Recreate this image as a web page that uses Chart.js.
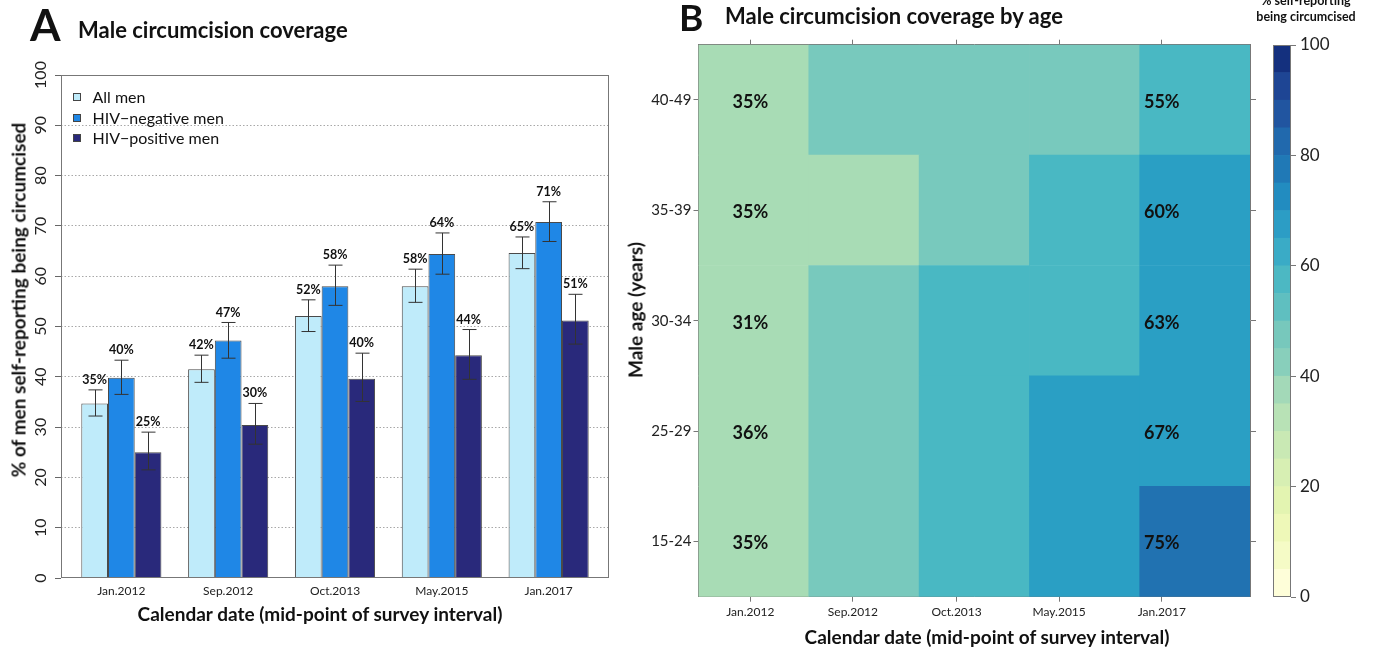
<!DOCTYPE html>
<html>
<head>
<meta charset="utf-8">
<script src="https://cdn.jsdelivr.net/npm/chart.js@4.4.1/dist/chart.umd.min.js"></script>
<style>
  body { margin: 0; background: #fff; }
  #page { position: relative; width: 1373px; height: 651px; overflow: hidden; background: #fff; font-family: Lato, sans-serif; color: #111; }
  canvas { position: absolute; top: 0; }
  .txt { position: absolute; white-space: nowrap; line-height: 1; }
  .letter { font-weight: 700; }
  .head { font-weight: 700; font-size: 22px; }
  .axt { font-weight: 700; font-size: 19px; transform: translate(-50%, -50%); }
  .axt.rot { transform: translate(-50%, -50%) rotate(-90deg); }
  .cbt { font-weight: 700; font-size: 12.5px; line-height: 16px; text-align: center; }
</style>
</head>
<body>
<div id="page">
  <canvas id="chartA" width="625" height="651" style="left:0"></canvas>
  <canvas id="chartB" width="665" height="651" style="left:600px"></canvas>
  <canvas id="chartC" width="111" height="651" style="left:1262px"></canvas>

  <div class="txt letter" style="left:30px; top:2px; font-size:44px;">A</div>
  <div class="txt head" style="left:78px; top:19px;">Male circumcision coverage</div>
  <div class="txt letter" style="left:679px; top:-2px; font-size:37px;">B</div>
  <div class="txt head" style="left:725px; top:5px;">Male circumcision coverage by age</div>
  <div class="txt cbt" style="left:1246px; top:-7px; width:120px;">% self-reporting<br>being circumcised</div>

  <div class="txt axt" style="left:320px; top:613px;">Calendar date (mid-point of survey interval)</div>
  <div class="txt axt rot" style="left:18px; top:300px;">% of men self-reporting being circumcised</div>
  <div class="txt axt" style="left:987px; top:636px;">Calendar date (mid-point of survey interval)</div>
  <div class="txt axt rot" style="left:635px; top:310px;">Male age (years)</div>
</div>

<script>
// survey rounds (mid-point of interval)
const dates = ['Jan.2012', 'Sep.2012', 'Oct.2013', 'May.2015', 'Jan.2017'];

// Panel A: % self-reporting circumcised, with confidence limits
const allMen = [34.7, 41.5, 52.1, 58.0, 64.6];
const allLow = [32.2, 38.9, 49.0, 54.8, 61.5];
const allHigh = [37.4, 44.3, 55.3, 61.4, 67.8];
const negMen = [39.8, 47.2, 58.0, 64.4, 70.8];
const negLow = [36.5, 43.7, 54.2, 60.4, 66.9];
const negHigh = [43.3, 50.8, 62.2, 68.6, 74.8];
const posMen = [25.0, 30.4, 39.6, 44.3, 51.2];
const posLow = [21.5, 26.6, 35.1, 39.5, 46.5];
const posHigh = [29.0, 34.7, 44.7, 49.4, 56.4];
const yTicksA = [0, 10, 20, 30, 40, 50, 60, 70, 80, 90, 100];

// Panel B: coverage by age group (rows bottom to top)
const ageGroups = ['15-24', '25-29', '30-34', '35-39', '40-49'];
const cov15to24 = [35, 45, 54, 63, 75];
const cov25to29 = [36, 46, 55, 62, 67];
const cov30to34 = [31, 44, 53, 57, 63];
const cov35to39 = [35, 38, 48, 56, 60];
const cov40to49 = [35, 45, 47, 48, 55];
const labelledCols = [0, 4];
const colorbarTicks = [0, 20, 40, 60, 80, 100];
const colorbarEdges = [0, 5, 10, 15, 20, 25, 30, 35, 40, 45, 50, 55, 60, 65, 70, 75, 80, 85, 90, 95, 100];

// colours
const cellPalette = ['#fcfdd3', '#ecf7b6', '#d4eeb3', '#a8dcb5', '#78c9bd',
                     '#49b8c3', '#2a9fc4', '#2172b1', '#21549f', '#183d8a'];
const barPalette = ['#fefed9', '#f5fbc6', '#eef8b8', '#e3f4b1', '#d7efb3',
                    '#c9e9b4', '#b8e2b6', '#a3d9b8', '#88cfbb', '#77c8bc',
                    '#5fbfc0', '#4cb8c3', '#3aabc6', '#2c9dc5', '#228cc0',
                    '#2079b6', '#2169ad', '#2155a0', '#1e4594', '#14307e'];
const cellColor = v => cellPalette[Math.min(9, Math.floor(v / 10))];

// heatmap axis: cells span 0..5, date ticks sit slightly off the cell centres
const heatTickPos = [0.47, 1.40, 2.34, 3.27, 4.20];

const FONT = 'Lato';
const fixWidth = w => s => { s.width = w; };
const fixHeight = h => s => { s.height = h; };

// box round the plotting region
const frameBox = {
  id: 'frameBox',
  afterDatasetsDraw(chart) {
    const { ctx, chartArea: a } = chart;
    ctx.save();
    ctx.strokeStyle = '#777';
    ctx.lineWidth = 1;
    ctx.strokeRect(Math.round(a.left) + 0.5, Math.round(a.top) + 0.5,
      Math.round(a.right - a.left) - 1, Math.round(a.bottom - a.top) - 1);
    ctx.restore();
  }
};

// confidence intervals and % labels above them
const errorBars = {
  id: 'errorBars',
  afterDatasetsDraw(chart) {
    const { ctx } = chart;
    const y = chart.scales.y;
    ctx.save();
    chart.data.datasets.forEach((ds, di) => {
      chart.getDatasetMeta(di).data.forEach((bar, i) => {
        const top = y.getPixelForValue(ds.ciHigh[i]);
        const bot = y.getPixelForValue(ds.ciLow[i]);
        const x = Math.round(bar.x) + 0.5;
        ctx.strokeStyle = '#333';
        ctx.lineWidth = 1;
        ctx.beginPath();
        ctx.moveTo(x, top); ctx.lineTo(x, bot);
        ctx.moveTo(x - 7, top); ctx.lineTo(x + 7, top);
        ctx.moveTo(x - 7, bot); ctx.lineTo(x + 7, bot);
        ctx.stroke();
        ctx.fillStyle = '#111';
        ctx.font = 'bold 12.5px ' + FONT;
        ctx.textAlign = 'center';
        ctx.textBaseline = 'middle';
        ctx.fillText(Math.round(ds.data[i].y) + '%', bar.x, top - 10);
      });
    });
    ctx.restore();
  }
};

// legend inside the top-left of the plot
const insetLegend = {
  id: 'insetLegend',
  afterDraw(chart) {
    const { ctx, chartArea: a } = chart;
    ctx.save();
    ctx.font = '16px ' + FONT;
    ctx.textBaseline = 'middle';
    chart.data.datasets.forEach((ds, i) => {
      const y = Math.round(a.top + 22 + i * 20.5);
      ctx.fillStyle = ds.backgroundColor;
      ctx.fillRect(a.left + 12, y - 4, 8, 8);
      ctx.strokeStyle = '#444';
      ctx.lineWidth = 1;
      ctx.strokeRect(a.left + 12.5, y - 3.5, 7, 7);
      ctx.fillStyle = '#111';
      ctx.fillText(ds.label, a.left + 31.5, y + 1);
    });
    ctx.restore();
  }
};

const barSeries = (label, values, low, high, color) => ({
  label,
  data: values.map((v, i) => ({ x: i, y: v })),
  ciLow: low,
  ciHigh: high,
  backgroundColor: color,
  borderColor: '#4a4a4a',
  borderWidth: 1
});

new Chart(document.getElementById('chartA'), {
  type: 'bar',
  data: {
    datasets: [
      barSeries('All men', allMen, allLow, allHigh, '#bfebfa'),
      barSeries('HIV\u2212negative men', negMen, negLow, negHigh, '#1f87e6'),
      barSeries('HIV\u2212positive men', posMen, posLow, posHigh, '#29297b')
    ]
  },
  options: {
    responsive: false,
    animation: false,
    layout: { padding: { left: 0, right: 16, top: 75, bottom: 0 } },
    datasets: { bar: { categoryPercentage: 0.75, barPercentage: 1 } },
    plugins: { legend: { display: false }, tooltip: { enabled: false } },
    scales: {
      x: {
        type: 'linear', min: -0.565, max: 4.565, offset: false,
        afterBuildTicks: s => { s.ticks = dates.map((d, i) => ({ value: i })); },
        afterFit: fixHeight(73),
        grid: { display: false, drawTicks: false, offset: false },
        border: { display: false },
        ticks: {
          callback: (v, i) => dates[i], autoSkip: false, maxRotation: 0,
          padding: 6, color: '#222', font: { family: FONT, size: 12 }
        }
      },
      y: {
        min: 0, max: 100,
        afterBuildTicks: s => { s.ticks = yTicksA.map(v => ({ value: v })); },
        afterFit: fixWidth(61),
        grid: {
          color: c => (c.tick && c.tick.value > 0 && c.tick.value < 100) ? '#a8a8a8' : 'rgba(0,0,0,0)',
          tickColor: '#666', tickLength: 6, tickBorderDash: []
        },
        border: { display: false, dash: [1.5, 2] },
        ticks: {
          minRotation: 90, maxRotation: 90, crossAlign: 'center', padding: 0,
          color: '#222', font: { family: FONT, size: 16 }
        }
      }
    }
  },
  plugins: [frameBox, errorBars, insetLegend]
});

// heatmap: one floating bar per cell
const heatRows = [cov15to24, cov25to29, cov30to34, cov35to39, cov40to49];

const cellLabels = {
  id: 'cellLabels',
  afterDatasetsDraw(chart) {
    const { ctx } = chart;
    const x = chart.scales.x;
    ctx.save();
    ctx.fillStyle = '#111';
    ctx.font = 'bold 18px ' + FONT;
    ctx.textAlign = 'center';
    ctx.textBaseline = 'middle';
    chart.data.datasets.forEach((ds, r) => {
      const meta = chart.getDatasetMeta(r);
      labelledCols.forEach(c => {
        const cell = meta.data[c];
        ctx.fillText(ds.values[c] + '%', x.getPixelForValue(heatTickPos[c]), (cell.y + cell.base) / 2 + 2);
      });
    });
    ctx.restore();
  }
};

const heatAxis = (extra) => Object.assign({
  type: 'linear', min: 0, max: 5, offset: false,
  grid: { drawOnChartArea: false, offset: false, tickLength: 5, tickColor: '#777' },
  border: { display: true, color: '#777' },
  ticks: { autoSkip: false, maxRotation: 0, color: '#222', font: { family: FONT } }
}, extra);

new Chart(document.getElementById('chartB'), {
  type: 'bar',
  data: {
    datasets: heatRows.map((vals, r) => ({
      label: ageGroups[r],
      data: vals.map((v, c) => ({ x: c + 0.5, y: [r, r + 1] })),
      values: vals,
      backgroundColor: vals.map(cellColor),
      borderWidth: 0,
      xAxisID: 'x',
      yAxisID: 'y'
    }))
  },
  options: {
    responsive: false,
    animation: false,
    layout: { padding: 0 },
    datasets: { bar: { barThickness: 'flex', categoryPercentage: 1, barPercentage: 1 } },
    plugins: { legend: { display: false }, tooltip: { enabled: false } },
    scales: {
      x: heatAxis({
        position: 'bottom', stacked: true,
        afterBuildTicks: s => { s.ticks = heatTickPos.map(v => ({ value: v })); },
        afterFit: fixHeight(54.3),
        ticks: { autoSkip: false, maxRotation: 0, padding: 3, color: '#222', font: { family: FONT, size: 12 }, callback: (v, i) => dates[i] }
      }),
      x2: heatAxis({
        position: 'top',
        afterBuildTicks: s => { s.ticks = heatTickPos.map(v => ({ value: v })); },
        afterFit: fixHeight(44.7),
        ticks: { display: false }
      }),
      y: heatAxis({
        position: 'left',
        afterBuildTicks: s => { s.ticks = ageGroups.map((g, r) => ({ value: r + 0.5 })); },
        afterFit: fixWidth(98.5),
        ticks: { padding: 2, color: '#222', font: { family: FONT, size: 15 }, callback: (v, i) => ageGroups[i] }
      }),
      y2: heatAxis({
        position: 'right',
        afterBuildTicks: s => { s.ticks = ageGroups.map((g, r) => ({ value: r + 0.5 })); },
        afterFit: fixWidth(15),
        grid: { drawOnChartArea: false, offset: false, tickLength: 6, tickColor: '#777' },
        ticks: { display: false }
      })
    }
  },
  plugins: [cellLabels]
});

// colour key: 5% bins stacked in one column
new Chart(document.getElementById('chartC'), {
  type: 'bar',
  data: {
    labels: [''],
    datasets: barPalette.map((col, k) => ({
      data: [[colorbarEdges[k], colorbarEdges[k + 1]]],
      backgroundColor: col,
      borderWidth: 0
    }))
  },
  options: {
    responsive: false,
    animation: false,
    layout: { padding: { left: 11, right: 0, top: 45, bottom: 54 } },
    datasets: { bar: { categoryPercentage: 1, barPercentage: 1 } },
    plugins: { legend: { display: false }, tooltip: { enabled: false } },
    scales: {
      x: { stacked: true, display: false },
      y: {
        position: 'right', min: 0, max: 100,
        afterBuildTicks: s => { s.ticks = colorbarTicks.map(v => ({ value: v })); },
        afterFit: fixWidth(82),
        grid: { drawOnChartArea: false, tickLength: 5, tickColor: '#777' },
        border: { display: false },
        ticks: { padding: 4, color: '#222', font: { family: FONT, size: 17 } }
      }
    }
  },
  plugins: [frameBox]
});
</script>
</body>
</html>
